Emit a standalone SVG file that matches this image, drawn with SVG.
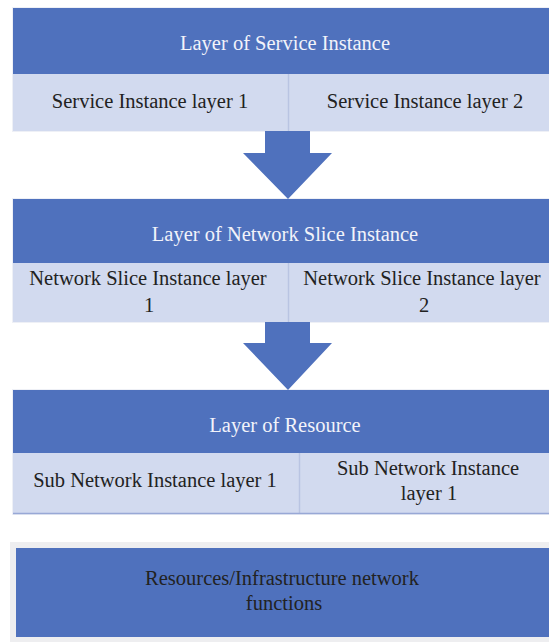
<svg xmlns="http://www.w3.org/2000/svg" width="549" height="643" viewBox="0 0 549 643">
<style>
.hdr{fill:#4F71BD}
.row{fill:#D2DAEF}
.div{stroke:#B9C4E2;stroke-width:1.5}
.arrow{fill:#4F71BD}
text{font-family:"Liberation Serif","Times New Roman",serif;font-size:20.5px;text-anchor:middle}
.ht{fill:#F2F3FA}
.rt{fill:#222222}
</style>
<rect width="549" height="643" fill="#ffffff"/>
<g id="service-layer">
<rect x="12" y="7" width="537" height="125" fill="#EEF0F6"/>
<rect class="hdr" x="13" y="8" width="536" height="66"/>
<rect class="row" x="13" y="74" width="536" height="57"/>
<line class="div" x1="288.5" y1="74" x2="288.5" y2="131"/>
<text class="ht" x="285" y="50">Layer of Service Instance</text>
<text class="rt" x="150" y="108">Service Instance layer 1</text>
<text class="rt" x="425" y="108">Service Instance layer 2</text>
</g>
<g id="slice-layer">
<rect x="12" y="198" width="537" height="125" fill="#EEF0F6"/>
<rect class="hdr" x="13" y="199" width="536" height="64"/>
<rect class="row" x="13" y="263" width="536" height="59"/>
<line class="div" x1="288.5" y1="263" x2="288.5" y2="322"/>
<text class="ht" x="285" y="241">Layer of Network Slice Instance</text>
<text class="rt" x="148" y="285">Network Slice Instance layer</text>
<text class="rt" x="149" y="312">1</text>
<text class="rt" x="422" y="285">Network Slice Instance layer</text>
<text class="rt" x="424" y="312">2</text>
</g>
<g id="resource-layer">
<rect x="12" y="389" width="537" height="126" fill="#EEF0F6"/>
<rect class="hdr" x="13" y="390" width="536" height="63"/>
<rect class="row" x="13" y="453" width="536" height="60"/>
<line class="div" x1="299.5" y1="453" x2="299.5" y2="513"/>
<line x1="13" y1="513.5" x2="549" y2="513.5" stroke="#98A8D6" stroke-width="1.5"/>
<text class="ht" x="285" y="432">Layer of Resource</text>
<text class="rt" x="155" y="487">Sub Network Instance layer 1</text>
<text class="rt" x="428" y="475">Sub Network Instance</text>
<text class="rt" x="429" y="500">layer 1</text>
</g>
<g id="infrastructure">
<rect x="10" y="542" width="539" height="100" fill="#EEEEF0"/>
<rect class="hdr" x="16" y="548" width="533" height="89"/>
<text class="rt" x="282" y="585">Resources/Infrastructure network</text>
<text class="rt" x="284" y="610">functions</text>
</g>
<g id="connectors">
<polygon class="arrow" points="265,131 310,131 310,153 332,153 288,199 243,153 265,153"/>
<polygon class="arrow" points="265,322 310,322 310,343 332,343 288,390 243,343 265,343"/>
</g>
</svg>
